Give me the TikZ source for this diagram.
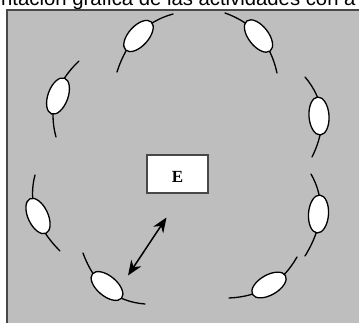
\documentclass[tikz,border=0pt]{standalone}
\usepackage{fontspec}
\setmainfont{Liberation Serif}
\newfontfamily\titlefont{Liberation Sans}
\usetikzlibrary{shapes.geometric,arrows.meta,calc}
\definecolor{floorgray}{RGB}{190,190,190}
\definecolor{framegray}{RGB}{72,72,72}
\begin{document}
\begin{tikzpicture}[x=1pt,y=-1pt,
  seat/.style={ellipse,draw=black,line width=1.3pt,fill=white,
    minimum width=38pt,minimum height=20pt,inner sep=0pt},
  seatline/.style={draw=black,line width=1.3pt,line cap=round},
  desk/.style={draw=framegray,line width=1.5pt,fill=white,
    minimum width=61pt,minimum height=38pt,inner sep=0pt,
    text height=17.5pt,text depth=0pt,
    font=\fontsize{17}{20}\selectfont\bfseries},
  link/.style={line width=1.5pt,
    {Stealth[length=15pt,width=12pt]}-{Stealth[length=15pt,width=12pt]}}]
\useasboundingbox (0,0) rectangle (359,322);
\clip (0,0) rectangle (359,322);
% heading line
\node[anchor=base west,inner sep=0pt,
  font=\titlefont\fontsize{20.3}{24}\selectfont] (title) at (1,5)
  {ntación gráfica de las actividades con a};
% floor of the room
\draw[framegray,line width=2pt,fill=floorgray] (7,9.5) rectangle (375,340);
% seats: start / bend / end of the back, centre and angle of the seat
\foreach \i/\ax/\ay/\cx/\cy/\bx/\by/\sx/\sy/\ang in {
  1/117/72/131.9/25.2/173/14/138.5/36/48,
  2/79/61/44.2/93.8/56/137/58/96/70,
  3/35/175/24.3/215.3/60/251/38/216/-65,
  4/83/253/100.1/300.4/145/304/107/286/-40,
  5/229/298/275/296/297/257/269/285/30,
  6/311/174/332.5/211.6/305/256/318.5/214/86,
  7/305/77/334.6/111.8/312/157/319/116/-86,
  8/225/13/267.2/27.8/277/73/258.5/36/-52}{
  \coordinate (b\i a) at (\ax,\ay);
  \coordinate (b\i c) at (\cx,\cy);
  \coordinate (b\i b) at (\bx,\by);
  \draw[seatline] (b\i a) .. controls ($(b\i a)!2/3!(b\i c)$)
    and ($(b\i b)!2/3!(b\i c)$) .. (b\i b);
  \node[seat,rotate=\ang] (s\i) at (\sx,\sy) {};
}
% the desk
\node[desk] (desk) at (177.5,174) {E};
% exchange between the desk and a seat
\coordinate (near) at (166.5,217.5);
\coordinate (far) at (128,275.5);
\draw[link] (near) -- (far);
\end{tikzpicture}
\end{document}
